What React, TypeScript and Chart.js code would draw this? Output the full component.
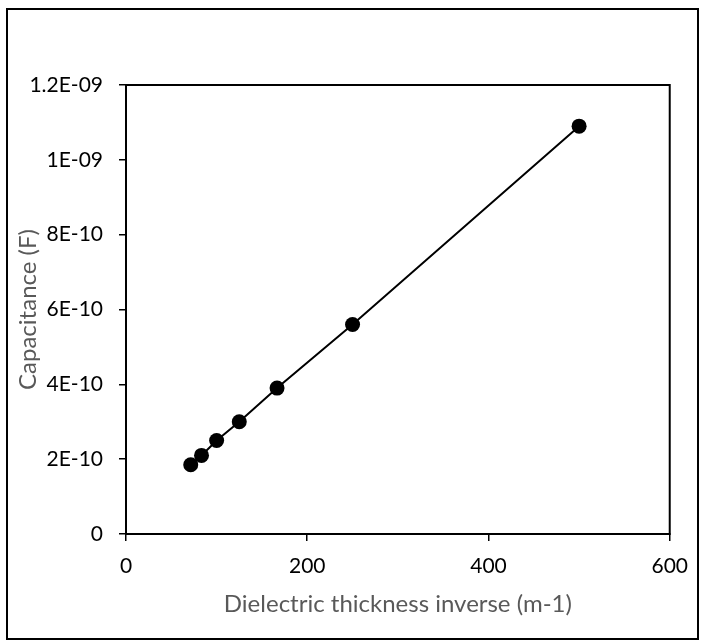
import React, { useEffect, useRef } from "react";
import { Chart, registerables } from "chart.js";

Chart.register(...registerables);

const inverseThickness = [71.43, 83.33, 100, 125, 166.67, 250, 500];
const capacitance = [1.85e-10, 2.1e-10, 2.5e-10, 3.0e-10, 3.9e-10, 5.6e-10, 1.09e-9];
const xTickValues = [0, 200, 400, 600];
const yTickValues = [0, 2e-10, 4e-10, 6e-10, 8e-10, 1e-9, 1.2e-9];
const yTickLabels = ["0", "2E-10", "4E-10", "6E-10", "8E-10", "1E-09", "1.2E-09"];
const xTitle = "Dielectric thickness inverse (m-1)";
const yTitle = "Capacitance (F)";

const W = 701;
const H = 641;

const framePlugin = {
  id: "frame",
  afterDraw(chart: any) {
    const { ctx, chartArea } = chart;
    ctx.save();
    ctx.strokeStyle = "#000";
    ctx.lineWidth = 2;
    ctx.strokeRect(chartArea.left, chartArea.top, chartArea.right - chartArea.left, chartArea.bottom - chartArea.top);
    ctx.strokeRect(7, 9, 691, 630);
    ctx.restore();
  },
};

export default function App() {
  const ref = useRef<HTMLCanvasElement | null>(null);
  useEffect(() => {
    if (!ref.current) return;
    const chart = new Chart(ref.current, {
      type: "scatter",
      data: {
        datasets: [
          {
            data: inverseThickness.map((x, i) => ({ x, y: capacitance[i] })),
            showLine: true,
            borderColor: "#000",
            borderWidth: 2,
            backgroundColor: "#000",
            pointBackgroundColor: "#000",
            pointBorderWidth: 0,
            pointRadius: 7.5,
            pointHoverRadius: 7.5,
          },
        ],
      },
      options: {
        responsive: false,
        animation: false,
        devicePixelRatio: 1,
        layout: { padding: { left: 0, top: 85, right: 29, bottom: 0 } },
        plugins: { legend: { display: false }, tooltip: { enabled: false } },
        scales: {
          x: {
            type: "linear",
            min: 0,
            max: 600,
            afterBuildTicks: (s: any) => {
              s.ticks = xTickValues.map((v) => ({ value: v }));
            },
            afterFit: (s: any) => {
              s.height = 107;
            },
            grid: { display: true, drawOnChartArea: false, drawTicks: true, tickLength: 7, color: "#000", lineWidth: 1.5 },
            border: { display: true, color: "#000", width: 2 },
            ticks: {
              color: "#000",
              padding: 13,
              font: { family: "Lato", size: 21 },
              maxRotation: 0,
              callback: (v: any) => String(v),
            },
            title: {
              display: true,
              text: xTitle,
              color: "#595959",
              font: { family: "Lato", size: 24 },
              padding: { top: 0, bottom: 22 },
            },
          },
          y: {
            type: "linear",
            min: 0,
            max: 1.2e-9,
            afterBuildTicks: (s: any) => {
              s.ticks = yTickValues.map((v) => ({ value: v }));
            },
            afterFit: (s: any) => {
              s.width = 126;
            },
            grid: { display: true, drawOnChartArea: false, drawTicks: true, tickLength: 7, color: "#000", lineWidth: 1.5 },
            border: { display: true, color: "#000", width: 2 },
            ticks: {
              color: "#000",
              padding: 16,
              font: { family: "Lato", size: 21 },
              callback: (_v: any, i: number) => yTickLabels[i],
            },
            title: {
              display: true,
              text: yTitle,
              color: "#595959",
              font: { family: "Lato", size: 24 },
              padding: { top: 14, bottom: 0 },
            },
          },
        },
      },
      plugins: [framePlugin],
    });
    return () => chart.destroy();
  }, []);
  return (
    <div style={{ position: "fixed", left: 0, top: 0, width: W, height: H, background: "#fff" }}>
      <canvas ref={ref} width={W} height={H} style={{ width: W, height: H, display: "block" }} />
    </div>
  );
}
